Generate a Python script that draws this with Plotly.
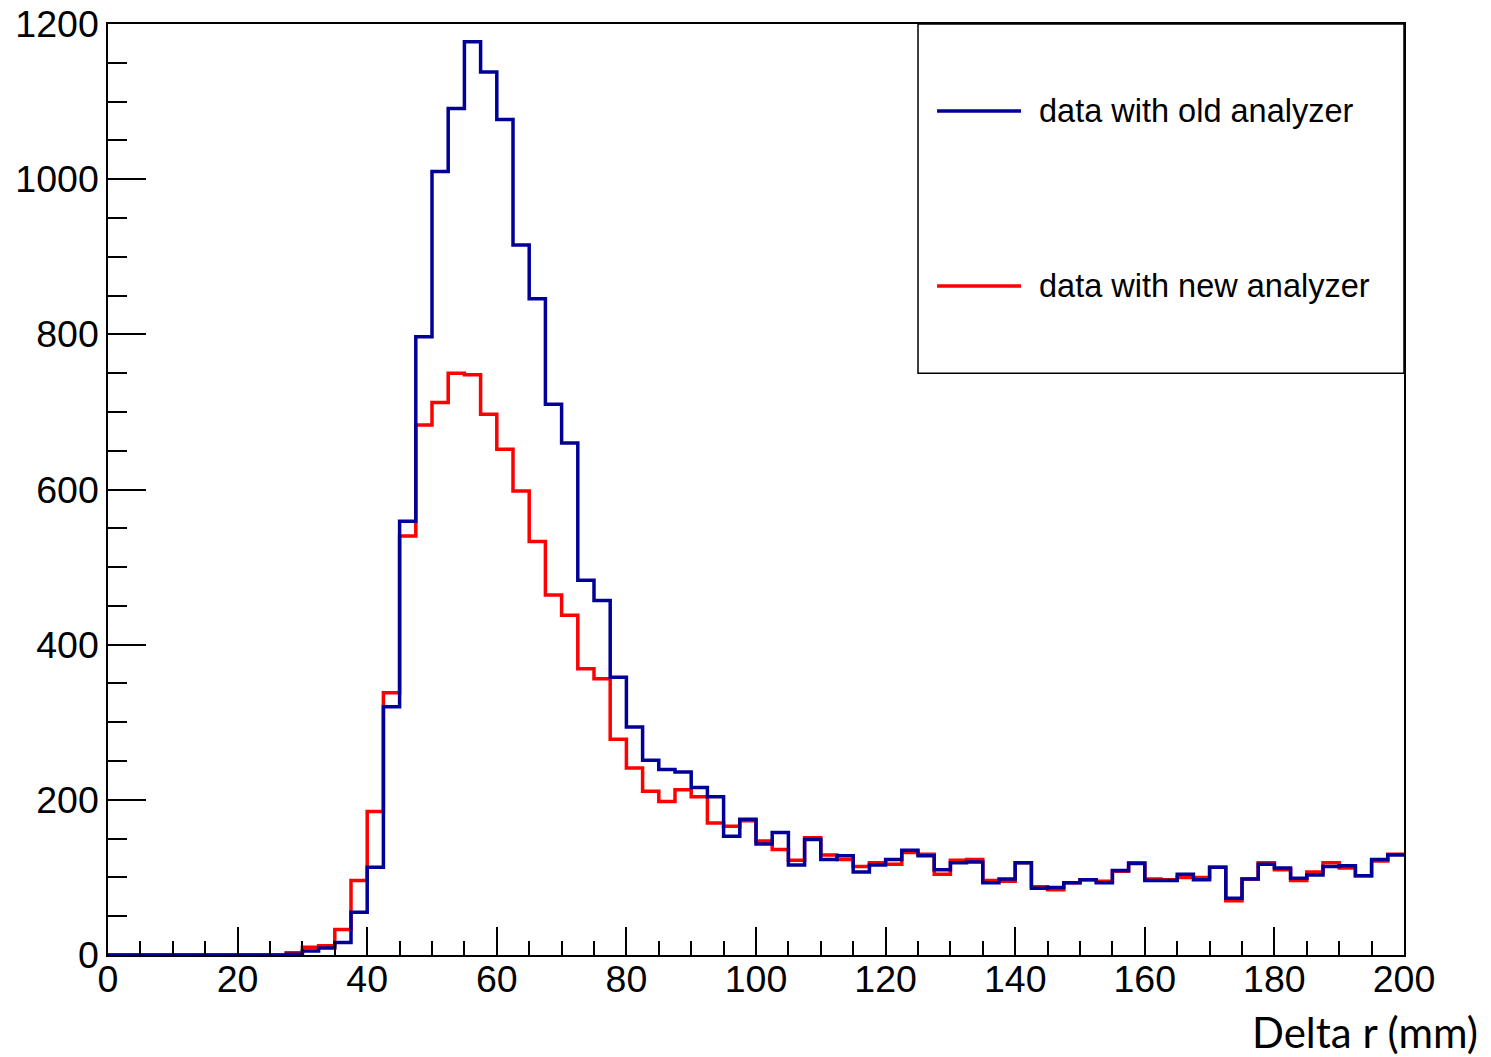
import numpy as np
import plotly.graph_objects as go

# Histogram: 80 bins of 2.5 mm from 0 to 200
bin_width = 2.5
x_min, x_max = 0, 200

old_analyzer = [0]*11 + [
    1, 5, 9, 16, 55, 113, 320, 559, 797, 1010,
    1091, 1177, 1138, 1077, 915, 846, 710, 660, 483, 457,
    358, 294, 251, 239, 236, 216, 204, 153, 175, 143,
    158, 116, 149, 123, 128, 107, 116, 123, 135, 128,
    110, 119, 120, 93, 98, 119, 86, 87, 93, 97,
    93, 109, 118, 96, 96, 104, 97, 113, 73, 98,
    117, 112, 99, 103, 114, 115, 102, 123, 129]

new_analyzer = [0]*11 + [
    3, 10, 12, 33, 96, 185, 338, 540, 683, 712,
    750, 748, 697, 652, 598, 533, 464, 438, 369, 356,
    278, 241, 211, 198, 213, 204, 170, 166, 173, 147,
    136, 122, 151, 129, 123, 114, 119, 117, 132, 130,
    104, 122, 123, 96, 95, 119, 88, 84, 93, 97,
    95, 108, 119, 98, 97, 100, 100, 113, 70, 98,
    119, 110, 96, 107, 119, 112, 102, 121, 130]

legend_labels = ["data with old analyzer", "data with new analyzer"]
x_title = "Delta r (mm)"

edges = np.arange(x_min, x_max + bin_width / 2, bin_width)

BLUE = "#000099"
RED = "#ff0000"

fig = go.Figure()
fig.add_trace(go.Scatter(x=edges, y=list(new_analyzer) + [new_analyzer[-1]],
                         mode="lines", line=dict(color=RED, width=3.5, shape="hv"),
                         name=legend_labels[1], showlegend=False))
fig.add_trace(go.Scatter(x=edges, y=list(old_analyzer) + [old_analyzer[-1]],
                         mode="lines", line=dict(color=BLUE, width=3.5, shape="hv"),
                         name=legend_labels[0], showlegend=False))

tick_font = dict(family="Liberation Sans, Arial, sans-serif", size=37.5, color="black")

fig.update_xaxes(range=[x_min, x_max], showline=True, mirror=True, linecolor="black", linewidth=1.5,
                 ticks="inside", ticklen=28, tickwidth=1.5, tickcolor="black", automargin=False,
                 ticklabelstandoff=-10,
                 tick0=0, dtick=20, tickfont=tick_font, showgrid=False, zeroline=False,
                 minor=dict(ticks="inside", ticklen=14, tickwidth=1.5, tickcolor="black", dtick=5, showgrid=False))
fig.update_yaxes(range=[0, 1200], showline=True, mirror=True, linecolor="black", linewidth=1.5,
                 ticks="inside", ticklen=38, tickwidth=1.5, tickcolor="black", automargin=False,
                 tick0=0, dtick=200, tickfont=tick_font, showgrid=False, zeroline=False,
                 minor=dict(ticks="inside", ticklen=19, tickwidth=1.5, tickcolor="black", dtick=50, showgrid=False))

# Legend box drawn in paper coordinates
fig.add_shape(type="rect", xref="paper", yref="paper", x0=0.625, x1=1.0, y0=0.625, y1=1.0,
              line=dict(color="black", width=1.5), fillcolor="white", layer="above")
legend_font = dict(family="Liberation Sans, Arial, sans-serif", size=32.5, color="black")
for label, color, yp in [(legend_labels[0], BLUE, 0.9066), (legend_labels[1], RED, 0.7186)]:
    fig.add_shape(type="line", xref="paper", yref="paper", x0=0.6397, x1=0.7045, y0=yp, y1=yp,
                  line=dict(color=color, width=3.5), layer="above")
    fig.add_annotation(xref="paper", yref="paper", x=0.7168, y=yp, text=label, showarrow=False,
                       xanchor="left", yanchor="middle", font=legend_font)

fig.add_annotation(xref="paper", yref="paper", x=1.0586, y=-0.0828, text=x_title, showarrow=False,
                   xanchor="right", yanchor="middle",
                   font=dict(family="Lato, Carlito, sans-serif", size=42, color="black"))

fig.update_layout(width=1491, height=1057, margin=dict(l=108, r=87, t=24, b=102),
                  paper_bgcolor="white", plot_bgcolor="white", showlegend=False)

fig.write_html("out.html")
